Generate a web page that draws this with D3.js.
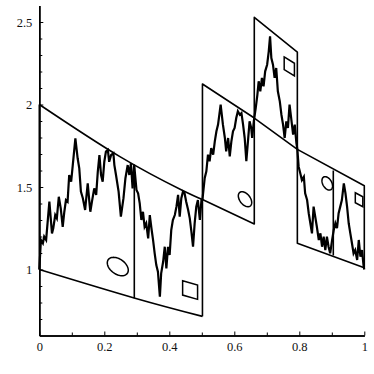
<!DOCTYPE html>
<html>
<head>
<meta charset="utf-8">
<script src="https://cdn.jsdelivr.net/npm/d3@7/dist/d3.min.js"></script>
<style>
    body { margin: 0; background: #fff; }
    svg { display: block; }
</style>
</head>
<body>
<svg id="chart-svg"></svg>
<script>
//Puntos de la curva fractal
var curvaX = [0, 0.005, 0.011, 0.015, 0.021, 0.031, 0.039, 0.043, 0.049, 0.054, 0.060, 0.066, 0.072, 0.077, 0.082, 0.087,
    0.092, 0.098, 0.103, 0.111, 0.118, 0.123, 0.128, 0.134, 0.141, 0.149, 0.154, 0.157, 0.162, 0.169, 0.175, 0.180,
    0.185, 0.190, 0.195, 0.200, 0.205, 0.211, 0.215, 0.221, 0.228, 0.231, 0.236, 0.244, 0.251, 0.259, 0.265, 0.272,
    0.277, 0.282, 0.287, 0.292, 0.299, 0.304, 0.309, 0.314, 0.319, 0.324, 0.329, 0.335, 0.340, 0.345, 0.350, 0.355,
    0.360, 0.365, 0.371, 0.375, 0.381, 0.386, 0.391, 0.396, 0.401, 0.406, 0.411, 0.417, 0.422, 0.427, 0.432, 0.437,
    0.442, 0.447, 0.452, 0.458, 0.463, 0.468, 0.473, 0.478, 0.483, 0.488, 0.494, 0.499, 0.502,
    0.509, 0.514, 0.519, 0.524, 0.529, 0.535, 0.540, 0.545, 0.550, 0.558, 0.565, 0.571, 0.575, 0.581, 0.586, 0.591,
    0.596, 0.601, 0.606, 0.611, 0.617, 0.622, 0.627, 0.632, 0.637, 0.642, 0.647, 0.652, 0.655, 0.660, 0.6615,
    0.666, 0.671, 0.675, 0.680, 0.685, 0.690, 0.695, 0.701, 0.706, 0.710, 0.714, 0.719, 0.724, 0.729, 0.734, 0.740,
    0.745, 0.750, 0.755, 0.760, 0.765, 0.770, 0.775, 0.781, 0.786, 0.791, 0.794,
    0.798, 0.803, 0.808, 0.814, 0.818, 0.824, 0.829, 0.834, 0.839, 0.844, 0.849, 0.854, 0.860, 0.865, 0.870, 0.875,
    0.880, 0.885, 0.890, 0.895, 0.901, 0.906, 0.911, 0.916, 0.921, 0.926, 0.931, 0.937, 0.942, 0.947, 0.952, 0.957,
    0.962, 0.967, 0.972, 0.978, 0.983, 0.988, 0.993, 0.998, 1];
var curvaY = [1, 1.179, 1.159, 1.199, 1.179, 1.411, 1.219, 1.250, 1.330, 1.310, 1.441, 1.371, 1.259, 1.350, 1.421, 1.411,
    1.573, 1.532, 1.633, 1.795, 1.674, 1.613, 1.472, 1.432, 1.361, 1.522, 1.411, 1.350, 1.411, 1.492, 1.452, 1.593,
    1.694, 1.573, 1.532, 1.653, 1.714, 1.724, 1.653, 1.694, 1.704, 1.633, 1.573, 1.472, 1.320, 1.432, 1.553, 1.633,
    1.573, 1.644, 1.492, 1.633, 1.482, 1.462, 1.401, 1.300, 1.350, 1.259, 1.280, 1.189, 1.330, 1.250, 1.179, 1.098,
    1.027, 0.987, 0.835, 0.977, 1.047, 1.138, 1.007, 1.138, 1.088, 1.239, 1.300, 1.330, 1.381, 1.452, 1.320, 1.432,
    1.472, 1.462, 1.411, 1.361, 1.310, 1.229, 1.138, 1.280, 1.381, 1.421, 1.300, 1.421, 1.424,
    1.555, 1.595, 1.696, 1.656, 1.736, 1.696, 1.777, 1.838, 1.878, 1.999, 1.878, 1.797, 1.716, 1.797, 1.686, 1.777,
    1.838, 1.858, 1.918, 1.959, 1.938, 1.948, 1.878, 1.797, 1.656, 1.777, 1.898, 1.858, 1.797, 1.898, 1.918,
    1.979, 2.059, 2.141, 2.080, 2.161, 2.110, 2.201, 2.241, 2.322, 2.413, 2.282, 2.241, 2.161, 2.221, 2.080, 2.019,
    1.938, 1.878, 1.797, 1.898, 1.858, 1.999, 1.918, 1.817, 1.878, 1.767, 1.728,
    1.623, 1.583, 1.542, 1.562, 1.462, 1.421, 1.341, 1.280, 1.219, 1.381, 1.320, 1.259, 1.179, 1.219, 1.138, 1.199,
    1.118, 1.199, 1.138, 1.098, 1.179, 1.239, 1.280, 1.250, 1.341, 1.381, 1.421, 1.522, 1.462, 1.381, 1.280, 1.219,
    1.159, 1.098, 1.118, 1.058, 1.179, 1.078, 1.118, 1.017, 1];

//Caja 1: bordes superior e inferior curvos
var caja1ArribaX = [0, 0.248, 0.438, 0.502];
var caja1ArribaY = [2, 1.684, 1.482, 1.424];
var caja1AbajoX = [0, 0.2945, 0.502];
var caja1AbajoY = [1, 0.826, 0.716];
//Cajas 2, 3 y 4: esquinas
var caja2X = [0.502, 0.6615, 0.6615, 0.502];
var caja2Y = [2.124, 1.918, 1.276, 1.424];
var caja3X = [0.6615, 0.794, 0.794, 0.6615];
var caja3Y = [2.528, 2.318, 1.728, 1.918];
var caja4X = [0.794, 1, 1, 0.794];
var caja4Y = [1.728, 1.508, 1.01, 1.159];

//Divisiones verticales (bordes de las cajas y separaciones internas)
var divisionX = [0.2923, 0.9046, 0.502, 0];
var divisionAbajo = [0.826, 1.085, 0.716, 1];
var divisionArriba = [1.637, 1.600, 1.424, 2];

//Elipses: centro, semiejes y pendiente de cizalla
var elipseCX = [0.2415, 0.633, 0.886];
var elipseCY = [1.018, 1.426, 1.522];
var elipseRX = [0.0323, 0.0206, 0.0163];
var elipseRY = [0.051, 0.0406, 0.0373];
var elipsePendiente = [-0.69, -0.985, -0.985];

//Rectangulos inclinados: x izquierda/derecha, y superior izquierda/derecha, altura
var rectX0 = [0.441, 0.7535, 0.9723];
var rectX1 = [0.487, 0.785, 0.9954];
var rectY0 = [0.932, 2.288, 1.465];
var rectY1 = [0.906, 2.250, 1.441];
var rectAlto = [0.087, 0.0764, 0.0606];

//Marcas de los ejes
var ticksX = [0, 0.2, 0.4, 0.6, 0.8, 1];
var etiquetasX = ["0", "0.2", "0.4", "0.6", "0.8", "1"];
var ticksMenoresX = [0.1, 0.3, 0.5, 0.7, 0.9];
var ticksY = [1, 1.5, 2, 2.5];
var etiquetasY = ["1", "1.5", "2", "2.5"];
var ticksMenoresY = [0.7, 0.8, 0.9, 1.1, 1.2, 1.3, 1.4, 1.6, 1.7, 1.8, 1.9, 2.1, 2.2, 2.3, 2.4];

var anchura = 374;
var altura = 374;

var svg = d3.select("#chart-svg")
    .attr("width", anchura)
    .attr("height", altura);

var x = d3.scaleLinear().domain([0, 1]).range([39.3, 364.3]);
var y = d3.scaleLinear().domain([0.6, 2.6]).range([335.5, 5.5]);

//Ejes con marcas hacia dentro
svg.append("g")
    .attr("transform", "translate(0," + y(0.6) + ")")
    .call(d3.axisBottom(x).tickValues(ticksX).tickSize(-4).tickSizeOuter(0).tickPadding(7)
        .tickFormat(function (d, i) { return etiquetasX[i]; }));
svg.append("g")
    .attr("transform", "translate(0," + y(0.6) + ")")
    .call(d3.axisBottom(x).tickValues(ticksMenoresX).tickSize(-3).tickSizeOuter(0).tickFormat(""));

svg.append("g")
    .attr("transform", "translate(" + x(0) + ",0)")
    .call(d3.axisLeft(y).tickValues(ticksY).tickSize(-4).tickSizeOuter(0).tickPadding(7)
        .tickFormat(function (d, i) { return etiquetasY[i]; }));
svg.append("g")
    .attr("transform", "translate(" + x(0) + ",0)")
    .call(d3.axisLeft(y).tickValues(ticksMenoresY).tickSize(-3).tickSizeOuter(0).tickFormat(""));

svg.selectAll(".domain").attr("stroke", "#000").attr("stroke-width", 1.5);
svg.selectAll(".tick line").attr("stroke", "#000").attr("stroke-width", 1);
//Etiquetas con letra serif como en el original
svg.selectAll(".tick text")
    .style("font-family", "Liberation Serif")
    .style("font-size", "12.5px")
    .style("fill", "#111");

var linea = d3.line()
    .x(function (d) { return x(d[0]); })
    .y(function (d) { return y(d[1]); });
var lineaCurva = d3.line()
    .x(function (d) { return x(d[0]); })
    .y(function (d) { return y(d[1]); })
    .curve(d3.curveNatural);

//Caja 1 (bordes curvos)
svg.selectAll(".borde")
    .data([[caja1ArribaX, caja1ArribaY], [caja1AbajoX, caja1AbajoY]])
    .join("path")
    .attr("class", "borde")
    .attr("d", function (c) { return lineaCurva(d3.zip(c[0], c[1])); })
    .attr("fill", "none")
    .attr("stroke", "#000")
    .attr("stroke-width", 1.6);

//Cajas 2, 3 y 4
var cajas = [[caja2X, caja2Y], [caja3X, caja3Y], [caja4X, caja4Y]];
svg.selectAll(".caja")
    .data(cajas)
    .join("path")
    .attr("class", "caja")
    .attr("d", function (c) { return linea(d3.zip(c[0], c[1])) + "Z"; })
    .attr("fill", "none")
    .attr("stroke", "#000")
    .attr("stroke-width", 1.6)
    .attr("stroke-linejoin", "round");

svg.selectAll(".division")
    .data(divisionX)
    .join("line")
    .attr("class", "division")
    .attr("x1", function (d) { return x(d); })
    .attr("x2", function (d) { return x(d); })
    .attr("y1", function (d, i) { return y(divisionAbajo[i]); })
    .attr("y2", function (d, i) { return y(divisionArriba[i]); })
    .attr("stroke", "#000")
    .attr("stroke-width", 1.6);

//Elipses cizalladas
svg.selectAll(".elipse")
    .data(elipseCX)
    .join("path")
    .attr("class", "elipse")
    .attr("d", function (cx, i) {
        var pts = d3.range(0, 361, 6).map(function (g) {
            var t = g * Math.PI / 180;
            var dx = elipseRX[i] * Math.cos(t);
            return [cx + dx, elipseCY[i] + elipseRY[i] * Math.sin(t) + elipsePendiente[i] * dx];
        });
        return linea(pts) + "Z";
    })
    .attr("fill", "none")
    .attr("stroke", "#000")
    .attr("stroke-width", 1.5);

//Rectangulos inclinados
svg.selectAll(".rect")
    .data(rectX0)
    .join("path")
    .attr("class", "rect")
    .attr("d", function (x0, i) {
        return linea([[x0, rectY0[i]], [rectX1[i], rectY1[i]],
            [rectX1[i], rectY1[i] - rectAlto[i]], [x0, rectY0[i] - rectAlto[i]]]) + "Z";
    })
    .attr("fill", "none")
    .attr("stroke", "#000")
    .attr("stroke-width", 1.5);

//Curva fractal
svg.append("path")
    .datum(d3.zip(curvaX, curvaY))
    .attr("d", linea)
    .attr("fill", "none")
    .attr("stroke", "#000")
    .attr("stroke-width", 2.2)
    .attr("stroke-linejoin", "miter");
</script>
</body>
</html>
